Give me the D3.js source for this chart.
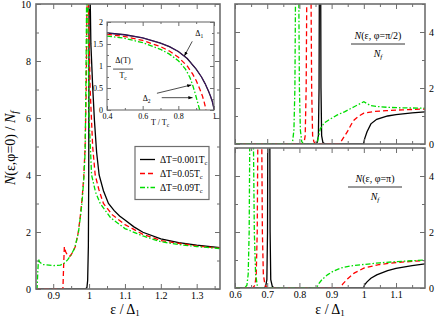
<!DOCTYPE html>
<html>
<head>
<meta charset="utf-8">
<script src="https://cdn.jsdelivr.net/npm/d3@7"></script>
<style>
  body { margin: 0; background: #fff; }
  svg { display: block; font-family: "Liberation Serif", "Times New Roman", serif; }
</style>
</head>
<body>
<svg id="chart" width="436" height="320"></svg>
<script>
// phi = 0 panel, [eps/Delta1, N/Nf]
const phi0Black = [[0.852,0],[0.99,0],[0.994,0.05],[0.996,0.3],[0.998,1.5],[0.999,4],[1.0,11],[1.001,12],[1.005,8.6],[1.01,7.1],[1.015,5.9],[1.021,4.8],[1.028,4.0],[1.04,3.45],[1.054,3.0],[1.07,2.75],[1.085,2.56],[1.1,2.42],[1.125,2.18],[1.15,1.99],[1.2,1.76],[1.25,1.63],[1.3,1.54],[1.365,1.45]];
const phi0Red = [[0.852,0],[0.927,0],[0.929,0.8],[0.931,1.48],[0.935,1.3],[0.94,1.18],[0.947,1.15],[0.955,1.3],[0.962,1.5],[0.97,2.0],[0.975,2.5],[0.98,3.1],[0.985,3.9],[0.989,5.0],[0.992,7],[0.994,10],[0.996,12],[0.998,10],[1.003,7],[1.01,5.0],[1.017,4.0],[1.027,3.5],[1.04,3.0],[1.065,2.6],[1.1,2.26],[1.15,1.92],[1.2,1.7],[1.25,1.6],[1.3,1.51],[1.365,1.43]];
const phi0Green = [[0.852,0],[0.855,0],[0.857,0.6],[0.859,1.05],[0.862,0.95],[0.87,0.86],[0.9,0.82],[0.92,0.84],[0.93,0.9],[0.94,1.02],[0.95,1.2],[0.96,1.45],[0.97,1.95],[0.975,2.45],[0.98,3.0],[0.985,3.8],[0.989,4.8],[0.991,7],[0.993,10],[0.995,12],[0.997,9],[1.0,6],[1.007,4.0],[1.018,3.4],[1.031,3.0],[1.06,2.5],[1.1,2.12],[1.15,1.86],[1.2,1.66],[1.25,1.56],[1.3,1.49],[1.365,1.42]];

// phi = pi/2 panel
const halfBlack = [[0.6,0],[0.85,0],[0.855,0.05],[0.859,0.3],[0.861,2],[0.862,6],[0.866,6],[0.867,2],[0.869,0.3],[0.873,0.05],[0.88,0],[0.999,0],[1.003,0.2],[1.01,0.44],[1.022,0.72],[1.04,0.88],[1.074,1.0],[1.1,1.05],[1.15,1.11],[1.19,1.15]];
const halfRed = [[0.6,0],[0.81,0],[0.815,0.08],[0.818,0.3],[0.821,2],[0.823,5.5],[0.829,9],[0.836,5.5],[0.838,2],[0.841,0.3],[0.845,0.08],[0.85,0],[0.922,0],[0.93,0.1],[0.94,0.28],[0.949,0.44],[0.96,0.68],[0.97,0.86],[0.985,1.0],[1.0,1.1],[1.03,1.16],[1.07,1.19],[1.12,1.22],[1.19,1.25]];
const halfGreen = [[0.6,0],[0.775,0],[0.779,0.1],[0.783,0.5],[0.786,2],[0.788,5.5],[0.793,9],[0.798,5.5],[0.8,2],[0.803,0.5],[0.807,0.1],[0.812,0],[0.855,0],[0.86,0.3],[0.865,0.55],[0.87,0.62],[0.876,0.74],[0.89,0.85],[0.905,0.95],[0.918,1.04],[0.94,1.15],[0.97,1.33],[0.99,1.45],[1.0,1.51],[1.01,1.44],[1.022,1.37],[1.05,1.33],[1.074,1.31],[1.12,1.29],[1.19,1.28]];

// phi = pi panel
const piBlack = [[0.6,0],[0.69,0],[0.695,0.05],[0.699,0.3],[0.701,2],[0.702,6],[0.708,6],[0.709,2],[0.711,0.3],[0.716,0.05],[0.722,0],[0.999,0],[1.003,0.12],[1.01,0.22],[1.022,0.35],[1.04,0.47],[1.074,0.62],[1.1,0.7],[1.15,0.8],[1.19,0.86]];
const piRed = [[0.6,0],[0.655,0],[0.662,0.1],[0.666,0.5],[0.669,2],[0.671,5.5],[0.677,9],[0.683,5.5],[0.685,2],[0.688,0.5],[0.693,0.1],[0.7,0],[0.927,0],[0.935,0.15],[0.95,0.33],[0.97,0.53],[1.0,0.71],[1.05,0.84],[1.1,0.91],[1.15,0.95],[1.19,0.98]];
const piGreen = [[0.6,0],[0.63,0],[0.637,0.1],[0.641,0.5],[0.644,2],[0.646,5.5],[0.651,9],[0.657,5.5],[0.66,2],[0.664,0.5],[0.669,0.1],[0.675,0],[0.853,0],[0.86,0.15],[0.87,0.3],[0.887,0.47],[0.905,0.6],[0.928,0.71],[0.96,0.79],[1.0,0.84],[1.05,0.9],[1.1,0.94],[1.19,1.0]];

// inset: gap vs temperature, [T/Tc, Delta/Tc]
const gap1 = [[0.4,1.75],[0.5,1.71],[0.6,1.64],[0.7,1.52],[0.75,1.44],[0.8,1.33],[0.85,1.17],[0.9,0.93],[0.93,0.75],[0.95,0.6],[0.97,0.42],[0.98,0.32],[0.99,0.2],[0.997,0.08],[1.0,0]];
const gap2Red = [[0.4,1.72],[0.5,1.67],[0.6,1.58],[0.7,1.44],[0.75,1.34],[0.8,1.2],[0.85,1.0],[0.88,0.82],[0.9,0.67],[0.92,0.48],[0.935,0.32],[0.945,0.18],[0.952,0.06],[0.955,0]];
const gap2Green = [[0.4,1.68],[0.5,1.63],[0.6,1.53],[0.7,1.38],[0.75,1.27],[0.8,1.12],[0.84,0.93],[0.865,0.74],[0.88,0.57],[0.895,0.37],[0.905,0.22],[0.915,0.07],[0.92,0]];

const legendLabels = ["0.001", "0.05", "0.09"];
const seriesStyle = [
  { color: "#000", dash: null },
  { color: "#ff0000", dash: "5,3" },
  { color: "#00dd00", dash: "5,2,1.5,2" }
];

const SERIF = "Liberation Serif, Times New Roman, serif";
const svg = d3.select("#chart");
const frameColor = "#6e6e6e";

function drawAxes(g, x, y, o) {
  const w = x.range()[1] - x.range()[0];
  const h = y.range()[0] - y.range()[1];
  const fs = o.fontSize || 10;
  const put = (axis, tx, ty) => {
    const a = g.append("g").attr("transform", `translate(${tx},${ty})`).call(axis)
      .attr("font-family", SERIF);
    a.select(".domain").remove();
    a.selectAll("line").attr("stroke", frameColor).attr("stroke-width", 1);
    a.selectAll("text").attr("font-size", fs).attr("fill", "#000");
    return a;
  };
  const xl = x.range()[0], yt = y.range()[1], yb = y.range()[0], xr = x.range()[1];
  const fx = o.xFormat, fy = o.yFormat;
  put(d3.axisBottom(x).tickValues(o.xMajor).tickSize(-o.major).tickPadding(o.xPad || 6)
    .tickFormat(o.xLabels ? fx : ""), 0, yb);
  put(d3.axisBottom(x).tickValues(o.xMinor).tickSize(-o.minor).tickFormat(""), 0, yb);
  put(d3.axisTop(x).tickValues(o.xMajor).tickSize(-o.major).tickFormat(""), 0, yt);
  put(d3.axisTop(x).tickValues(o.xMinor).tickSize(-o.minor).tickFormat(""), 0, yt);
  put(d3.axisLeft(y).tickValues(o.yMajor).tickSize(-o.major).tickPadding(o.yPad || 5)
    .tickFormat(o.yLeftLabels ? fy : ""), xl, 0);
  put(d3.axisLeft(y).tickValues(o.yMinor).tickSize(-o.minor).tickFormat(""), xl, 0);
  put(d3.axisRight(y).tickValues(o.yMajor).tickSize(-o.major).tickPadding(o.yPad || 5)
    .tickFormat(o.yRightLabels ? fy : ""), xr, 0);
  put(d3.axisRight(y).tickValues(o.yMinor).tickSize(-o.minor).tickFormat(""), xr, 0);
  g.append("rect").attr("x", xl).attr("y", yt).attr("width", w).attr("height", h)
    .attr("fill", "none").attr("stroke", frameColor).attr("stroke-width", o.frameWidth || 1.6);
}

function drawCurves(g, x, y, sets, id, width) {
  const xl = x.range()[0], yt = y.range()[1];
  g.append("clipPath").attr("id", id).append("rect")
    .attr("x", xl).attr("y", yt)
    .attr("width", x.range()[1] - xl).attr("height", y.range()[0] - yt);
  const line = d3.line().x(d => x(d[0])).y(d => y(d[1]));
  const cg = g.append("g").attr("clip-path", `url(#${id})`);
  sets.forEach((data, i) => {
    const st = seriesStyle[i];
    cg.append("path").datum(data).attr("d", line)
      .attr("fill", "none").attr("stroke", st.color)
      .attr("stroke-width", width || 1.3)
      .attr("stroke-dasharray", st.dash);
  });
}

const fmt1 = d => d === 1 ? "1" : d3.format(".1f")(d);
const fmtInt = d => d3.format("d")(d);

// ---------- left panel ----------
const xL = d3.scaleLinear().domain([0.852, 1.365]).range([36, 220]);
const yL = d3.scaleLinear().domain([0, 10]).range([289, 4]);
const gL = svg.append("g");
drawCurves(gL, xL, yL, [phi0Black, phi0Red, phi0Green], "clipL");
drawAxes(gL, xL, yL, {
  xMajor: [0.9, 1, 1.1, 1.2, 1.3], xMinor: [0.95, 1.05, 1.15, 1.25, 1.35],
  yMajor: [0, 2, 4, 6, 8, 10], yMinor: [1, 3, 5, 7, 9],
  major: 5, minor: 3, xLabels: true, yLeftLabels: true,
  xFormat: fmt1, yFormat: fmtInt, xPad: 3, yPad: 5
});

// legend
const legX = xL(1.128), legY = yL(5.0);
const leg = gL.append("g");
leg.append("rect").attr("x", legX).attr("y", legY).attr("width", 74).attr("height", 53)
  .attr("fill", "#fff").attr("stroke", frameColor).attr("stroke-width", 1.2);
legendLabels.forEach((lab, i) => {
  const yy = legY + 13 + i * 14;
  const st = seriesStyle[i];
  leg.append("line").attr("x1", legX + 5).attr("x2", legX + 20).attr("y1", yy).attr("y2", yy)
    .attr("stroke", st.color).attr("stroke-width", 1.3).attr("stroke-dasharray", st.dash);
  const t = leg.append("text").attr("x", legX + 25).attr("y", yy + 3.5).attr("font-size", 9.5);
  t.append("tspan").text(`\u0394T=${lab}T`);
  t.append("tspan").attr("font-size", 6.5).attr("dy", 2).text("c");
});

// inset
const xI = d3.scaleLinear().domain([0.4, 1]).range([107, 214]);
const yI = d3.scaleLinear().domain([0, 2]).range([110, 22]);
const gI = svg.append("g");
gI.append("rect").attr("x", 107).attr("y", 22).attr("width", 107).attr("height", 88).attr("fill", "#fff");
drawCurves(gI, xI, yI, [gap1, gap2Red, gap2Green], "clipI", 1.3);
gI.append("path").datum(gap1)
  .attr("d", d3.line().x(d => xI(d[0])).y(d => yI(d[1])))
  .attr("fill", "none").attr("stroke", "#6a1fb0").attr("stroke-width", 0.6);
drawAxes(gI, xI, yI, {
  xMajor: [0.4, 0.6, 0.8, 1], xMinor: [0.5, 0.7, 0.9],
  yMajor: [0, 0.5, 1, 1.5, 2], yMinor: [0.25, 0.75, 1.25, 1.75],
  major: 4, minor: 2, xLabels: true, yLeftLabels: true, fontSize: 8,
  xFormat: d => d === 1 ? "1" : d3.format(".1f")(d), yFormat: d => String(d),
  xPad: 3, yPad: 4, frameWidth: 1.1
});
gI.append("text").attr("x", 160).attr("y", 125).attr("text-anchor", "middle").attr("font-size", 8)
  .call(t => { t.append("tspan").text("T / T"); t.append("tspan").attr("font-size", 5.5).attr("dy", 2).text("c"); });
// Delta(T)/Tc label
const lx = xI(0.49);
gI.append("text").attr("x", lx).attr("y", yI(1.07)).attr("text-anchor", "middle").attr("font-size", 8).text("\u0394(T)");
gI.append("line").attr("x1", lx - 10).attr("x2", lx + 10).attr("y1", yI(0.93)).attr("y2", yI(0.93))
  .attr("stroke", "#000").attr("stroke-width", 0.7);
gI.append("text").attr("x", lx).attr("y", yI(0.72)).attr("text-anchor", "middle").attr("font-size", 8)
  .call(t => { t.append("tspan").text("T"); t.append("tspan").attr("font-size", 5.5).attr("dy", 2).text("c"); });
// arrows
const defs = svg.append("defs");
defs.append("marker").attr("id", "arr").attr("viewBox", "0 0 10 10").attr("refX", 10).attr("refY", 5)
  .attr("markerWidth", 6).attr("markerHeight", 6).attr("orient", "auto")
  .append("path").attr("d", "M0,1L10,5L0,9z").attr("fill", "#000");
const arrows = [[[0.878, 1.56], [0.834, 1.23]], [[0.68, 0.38], [0.873, 0.57]], [[0.707, 0.28], [0.88, 0.28]]];
arrows.forEach(a => {
  gI.append("line").attr("x1", xI(a[0][0])).attr("y1", yI(a[0][1]))
    .attr("x2", xI(a[1][0])).attr("y2", yI(a[1][1]))
    .attr("stroke", "#000").attr("stroke-width", 0.7).attr("marker-end", "url(#arr)");
});
gI.append("text").attr("x", xI(0.895)).attr("y", yI(1.68)).attr("font-size", 8)
  .call(t => { t.append("tspan").text("\u0394"); t.append("tspan").attr("font-size", 5.5).attr("dy", 2).text("1"); });
gI.append("text").attr("x", xI(0.6)).attr("y", yI(0.2)).attr("font-size", 8)
  .call(t => { t.append("tspan").text("\u0394"); t.append("tspan").attr("font-size", 5.5).attr("dy", 2).text("2"); });

// axis labels left
svg.append("text").attr("transform", "translate(15,148) rotate(-90)").attr("text-anchor", "middle")
  .attr("font-size", 14)
  .call(t => {
    t.append("tspan").attr("font-style", "italic").text("N");
    t.append("tspan").text("(\u03b5,\u03c6=0) / ");
    t.append("tspan").attr("font-style", "italic").text("N");
    t.append("tspan").attr("font-size", 10).attr("font-style", "italic").attr("dy", 3).text("f");
  });

function epsLabel(cx) {
  svg.append("text").attr("x", cx).attr("y", 314).attr("text-anchor", "middle").attr("font-size", 14)
    .call(t => {
      t.append("tspan").text("\u03b5 / \u0394");
      t.append("tspan").attr("font-size", 9).attr("dy", 2).text("1");
    });
}
epsLabel(125);
epsLabel(330);

// ---------- right panels ----------
const xR = d3.scaleLinear().domain([0.6, 1.19]).range([235, 425]);
const yRT = d3.scaleLinear().domain([0, 5]).range([144, 4]);
const yRB = d3.scaleLinear().domain([0, 5]).range([288, 148]);
const rOpts = {
  xMajor: [0.6, 0.7, 0.8, 0.9, 1, 1.1], xMinor: [0.65, 0.75, 0.85, 0.95, 1.05, 1.15],
  yMajor: [0, 2, 4], yMinor: [1, 3, 5], major: 5, minor: 3,
  xFormat: fmt1, yFormat: fmtInt, yRightLabels: true, xPad: 3, yPad: 4
};
const gRT = svg.append("g");
drawCurves(gRT, xR, yRT, [halfBlack, halfRed, halfGreen], "clipRT");
drawAxes(gRT, xR, yRT, Object.assign({}, rOpts, { xLabels: false }));
const gRB = svg.append("g");
drawCurves(gRB, xR, yRB, [piBlack, piRed, piGreen], "clipRB");
drawAxes(gRB, xR, yRB, Object.assign({}, rOpts, { xLabels: true }));

function fracLabel(g, cx, yTop, phiText) {
  g.append("text").attr("x", cx).attr("y", yTop).attr("text-anchor", "middle").attr("font-size", 10)
    .call(t => {
      t.append("tspan").attr("font-style", "italic").text("N");
      t.append("tspan").text(`(\u03b5, \u03c6=${phiText})`);
    });
  g.append("line").attr("x1", cx - 27).attr("x2", cx + 27).attr("y1", yTop + 5).attr("y2", yTop + 5)
    .attr("stroke", "#000").attr("stroke-width", 0.8);
  g.append("text").attr("x", cx).attr("y", yTop + 18).attr("text-anchor", "middle").attr("font-size", 10)
    .call(t => {
      t.append("tspan").attr("font-style", "italic").text("N");
      t.append("tspan").attr("font-size", 7).attr("font-style", "italic").attr("dy", 2).text("f");
    });
}
fracLabel(gRT, 378, 39, "\u03c0/2");
fracLabel(gRB, 375, 182, "\u03c0");
</script>
</body>
</html>
